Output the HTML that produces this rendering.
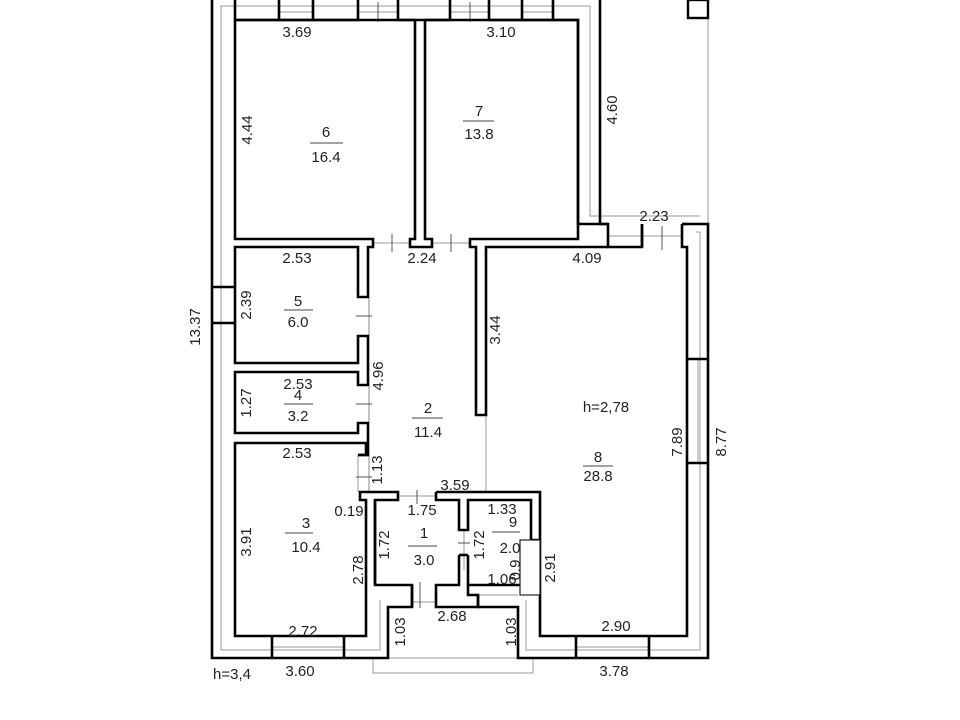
<!DOCTYPE html>
<html><head><meta charset="utf-8"><style>
html,body{margin:0;padding:0;background:#fff;}
svg{display:block}
text{font-family:"Liberation Sans",sans-serif;font-size:15px;fill:#222;}
</style></head><body>
<svg width="960" height="720" viewBox="0 0 960 720" xmlns="http://www.w3.org/2000/svg">
<g fill="none" stroke="#999" stroke-width="1">
<path d="M221 650 L221 6 L590 6 L590 216 L700 216"/>
<path d="M221 650 L380 650 L380 600"/>
<path d="M526 600 L526 650 L700 650 L700 232 L696 232"/>
<line x1="708" y1="0" x2="708" y2="224"/>
<line x1="486" y1="415" x2="486" y2="492"/>
<rect x="373" y="658" width="160" height="15"/>
<line x1="369" y1="297" x2="369" y2="336" stroke="#888"/>
<line x1="369" y1="385" x2="369" y2="423" stroke="#888"/>
<line x1="369" y1="455" x2="369" y2="492" stroke="#888"/>
<line x1="358" y1="455" x2="358" y2="492"/>
<line x1="373" y1="243" x2="410" y2="243"/>
<line x1="432" y1="243" x2="470" y2="243"/>
<line x1="642" y1="236" x2="682" y2="236"/>
<line x1="358" y1="12" x2="398" y2="12"/>
<line x1="450" y1="12" x2="489" y2="12"/>
<line x1="398" y1="496" x2="436" y2="496"/>
<line x1="436" y1="602" x2="412" y2="602"/>
<line x1="464" y1="530" x2="464" y2="570"/>
<line x1="698" y1="359" x2="698" y2="463"/>
<line x1="221" y1="287" x2="221" y2="323"/>
<line x1="279" y1="12" x2="313" y2="12"/>
<line x1="522" y1="12" x2="553" y2="12"/>
<line x1="608" y1="236" x2="642" y2="236"/>
<line x1="272" y1="647" x2="344" y2="647"/>
<line x1="576" y1="647" x2="649" y2="647"/>
<line x1="478" y1="595" x2="518" y2="595"/>
</g>
<g stroke="#555" stroke-width="1">
<line x1="378" y1="2" x2="378" y2="22"/><line x1="470" y1="2" x2="470" y2="22"/>
<line x1="392" y1="234" x2="392" y2="252"/><line x1="451" y1="234" x2="451" y2="252"/>
<line x1="662" y1="226" x2="662" y2="250"/>
<line x1="356" y1="316" x2="372" y2="316"/><line x1="356" y1="404" x2="372" y2="404"/><line x1="356" y1="477" x2="372" y2="477"/>
<line x1="417" y1="490" x2="417" y2="504"/><line x1="420" y1="582" x2="420" y2="608"/>
<line x1="458" y1="543" x2="470" y2="543"/>
</g>
<g fill="none" stroke="#000" stroke-width="2.6" stroke-linejoin="miter">
<path d="M212 0 L212 658 L388 658 L388 607 L412 607 L412 585 L375 585 L375 500 L398 500 L398 492 L360 492 L360 500 L366 500 L366 636 L235 636 L235 443 L366 443 L366 455 L358 455"/>
<path d="M235 0 L235 20"/>
<path d="M212 287 L235 287 M212 323 L235 323"/>
<path d="M235 20 L279 20 L279 0 M313 0 L313 20 L358 20 L358 0 M398 0 L398 20 L450 20 L450 0 M489 0 L489 20 L522 20 L522 0 M553 0 L553 20 L578 20 L578 224 L608 224 L608 247 L642 247 L642 224 M682 224 L708 224 L708 658 L518 658 L518 607 L478 607 L478 595 L468 595 L468 585 L531 585 L531 540 L540 540 L540 636 L687 636 L687 247 L682 247 L682 224"/>
<path d="M600 0 L600 224 L608 224"/>
<path d="M279 20 L313 20 M522 20 L553 20"/>
<path d="M235 20 L235 239 L373 239 L373 247 L368 247 L368 297 L358 297 L358 247 L235 247 L235 363 L358 363 L358 336 L368 336 L368 385 L358 385 L358 372 L235 372 L235 433 L358 433 L358 423 L368 423 L368 455 L358 455"/>
<path d="M235 20 L415 20 L415 239 L410 239 L410 247 L432 247 L432 239 L425 239 L425 20 L578 20 L578 239 L470 239 L470 247 L476 247 L476 415 L486 415 L486 247 L608 247"/>
<path d="M642 247 L642 224 M682 224 L687 224"/>
<path d="M436 492 L540 492 L540 540 M436 492 L436 500 L459 500 L459 530 L468 530 L468 500 L531 500 L531 540"/>
<path d="M375 500 L375 585 M459 555 L459 585 L436 585 L436 607 L478 607 L478 595 M468 555 L468 585"/>
<path d="M459 555 L468 555"/>
<path d="M686 359 L708 359 M686 463 L708 463"/>
<path d="M272 636 L272 658 M344 636 L344 658 M576 636 L576 658 M649 636 L649 658"/>
<path d="M412 585 L412 607"/>
</g>
<rect x="520" y="540" width="20" height="55" fill="#fff" stroke="#222" stroke-width="1.2"/>
<rect x="688" y="0" width="20" height="18" fill="#fff" stroke="#000" stroke-width="2.4"/>
<g text-anchor="middle">
<text x="297" y="37">3.69</text><text x="501" y="37">3.10</text>
<text x="326" y="137">6</text><line x1="310" y1="143" x2="343" y2="143" stroke="#444"/><text x="326" y="162">16.4</text>
<text x="479" y="116">7</text><line x1="463" y1="121" x2="494" y2="121" stroke="#444"/><text x="479" y="139">13.8</text>
<text x="654" y="221">2.23</text>
<text x="297" y="263">2.53</text><text x="422" y="263">2.24</text><text x="587" y="263">4.09</text>
<text x="298" y="306">5</text><line x1="284" y1="310" x2="313" y2="310" stroke="#444"/><text x="298" y="327">6.0</text>
<text x="298" y="389">2.53</text><text x="298" y="400">4</text><line x1="284" y1="404" x2="313" y2="404" stroke="#444"/><text x="298" y="421">3.2</text>
<text x="428" y="413">2</text><line x1="412" y1="418" x2="443" y2="418" stroke="#444"/><text x="428" y="437">11.4</text>
<text x="606" y="412">h=2,78</text>
<text x="598" y="462">8</text><line x1="583" y1="466" x2="613" y2="466" stroke="#444"/><text x="598" y="481">28.8</text>
<text x="297" y="458">2.53</text><text x="455" y="490">3.59</text>
<text x="349" y="516">0.19</text><text x="422" y="515">1.75</text><text x="502" y="514">1.33</text>
<text x="306" y="528">3</text><line x1="285" y1="533" x2="313" y2="533" stroke="#444"/><text x="306" y="552">10.4</text>
<text x="424" y="538">1</text><line x1="408" y1="546" x2="437" y2="546" stroke="#444"/><text x="424" y="565">3.0</text>
<text x="513" y="527">9</text><line x1="492" y1="532" x2="520" y2="532" stroke="#444"/><text x="510" y="553">2.0</text>
<text x="502" y="584">1.06</text>
<text x="303" y="636">2.72</text><text x="452" y="621">2.68</text><text x="616" y="631">2.90</text>
<text x="300" y="676">3.60</text><text x="614" y="676">3.78</text>
<text x="232" y="679" style="font-size:15px">h=3,4</text>
</g>
<g text-anchor="middle">
<text transform="translate(252,130) rotate(-90)">4.44</text>
<text transform="translate(617,110) rotate(-90)">4.60</text>
<text transform="translate(200,327) rotate(-90)">13.37</text>
<text transform="translate(251,305) rotate(-90)">2.39</text>
<text transform="translate(251,403) rotate(-90)">1.27</text>
<text transform="translate(383,376) rotate(-90)">4.96</text>
<text transform="translate(500,330) rotate(-90)">3.44</text>
<text transform="translate(382,470) rotate(-90)">1.13</text>
<text transform="translate(251,542) rotate(-90)">3.91</text>
<text transform="translate(363,570) rotate(-90)">2.78</text>
<text transform="translate(389,545) rotate(-90)">1.72</text>
<text transform="translate(484,545) rotate(-90)">1.72</text>
<text transform="translate(520,570) rotate(-90)">0.9</text>
<text transform="translate(555,568) rotate(-90)">2.91</text>
<text transform="translate(405,632) rotate(-90)">1.03</text>
<text transform="translate(516,632) rotate(-90)">1.03</text>
<text transform="translate(682,442) rotate(-90)">7.89</text>
<text transform="translate(726,442) rotate(-90)">8.77</text>
</g>
</svg>
</body></html>
